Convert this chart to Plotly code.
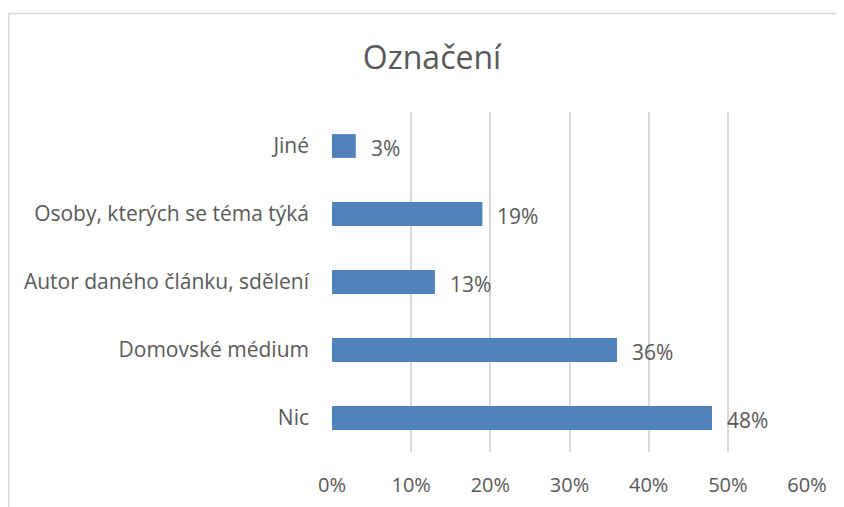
import plotly.graph_objects as go

categories = ["Nic", "Domovské médium", "Autor daného článku, sdělení",
              "Osoby, kterých se téma týká", "Jiné"]
values = [0.48, 0.36, 0.13, 0.19, 0.03]
labels = ["48%", "36%", "13%", "19%", "3%"]
tick_vals = [0, 0.1, 0.2, 0.3, 0.4, 0.5, 0.6]
tick_text = ["0%", "10%", "20%", "30%", "40%", "50%", "60%"]

# page body has an 8px margin, so figure coords = screen coords - 8
W, H = 836, 499
L, R, T, B = 324, 37, 104, 55
FONT = "Open Sans"
GREY = "#595959"

fig = go.Figure()
fig.add_trace(go.Bar(
    y=categories, x=values, orientation="h",
    marker=dict(color="#4F81BD", line=dict(width=0)),
    hoverinfo="skip",
))

for c, v, t in zip(categories, values, labels):
    fig.add_annotation(x=v, y=c, text=t, xref="x", yref="y",
                       xanchor="left", yanchor="middle", showarrow=False,
                       xshift=13, yshift=-2,
                       font=dict(family=FONT, size=21, color=GREY))

pw = W - L - R
ph = H - T - B
# outer chart border (left + top visible)
fig.add_shape(type="rect", xref="paper", yref="paper",
              x0=(0.75 - L) / pw, x1=(W + 20 - L) / pw,
              y0=(-20 - B) / ph, y1=(H - 5.5 - B) / ph,
              line=dict(color="#D9D9D9", width=1.5), layer="below")

fig.update_layout(
    width=W, height=H,
    margin=dict(l=L, r=R, t=T, b=B, autoexpand=False),
    paper_bgcolor="white", plot_bgcolor="white",
    bargap=0.65, showlegend=False,
    title=dict(text="Označení", x=424 / W, xref="container", xanchor="center",
               y=1 - 50 / H, yref="container", yanchor="middle",
               font=dict(family=FONT, size=32, color=GREY)),
    xaxis=dict(range=[0, 0.6], tickvals=tick_vals, ticktext=tick_text,
               showgrid=True, gridcolor="#D9D9D9", gridwidth=1.5,
               zeroline=False, showline=False, ticks="", automargin=False,
               ticklabelstandoff=19,
               tickfont=dict(family=FONT, size=20, color=GREY)),
    yaxis=dict(showgrid=False, zeroline=False, showline=False, ticks="",
               automargin=False, ticklabelstandoff=22,
               tickfont=dict(family=FONT, size=21, color=GREY)),
)

fig.write_html("out.html")
